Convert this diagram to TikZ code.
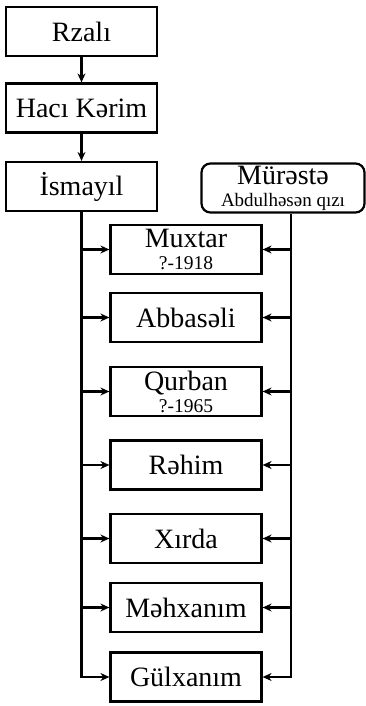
\documentclass[tikz,border=0pt]{standalone}
\usepackage{fontspec}
\setmainfont{Liberation Serif}
\usetikzlibrary{arrows.meta,positioning}
\begin{document}
\begin{tikzpicture}[x=1pt,y=-1pt,
	person/.style={draw,line width=2.2pt,minimum width=151pt,minimum height=49pt,inner sep=0pt,align=center,font=\fontsize{28}{22}\selectfont},
	mother/.style={person,rounded corners=9pt,minimum width=163pt},
	link/.style={line width=2.2pt,-{Stealth[length=9pt,width=8pt]}}]
	\useasboundingbox (0,0) rectangle (366,706);

	% parents
	\node[person] (rza) at (81.5,31.5) {Rzalı};
	\node[person] (hac) at (81.5,108) {Hacı Kərim};
	\node[person] (ism) at (81.5,186.5) {İsmayıl};
	\node[mother] (mur) at (283,188) {Mürəstə\\{\fontsize{19}{21}\selectfont Abdulhəsən qızı}};
	\draw[link] (rza) -- (hac);
	\draw[link] (hac) -- (ism);

	% children
	\node[person] (mux) at (186,249.5) {Muxtar\\{\fontsize{19.5}{22}\selectfont ?-1918}};
	\node[person] (abb) at (186,317.5) {Abbasəli};
	\node[person] (qur) at (186,391.5) {Qurban\\{\fontsize{19.5}{22}\selectfont ?-1965}};
	\node[person] (reh) at (186,465) {Rəhim};
	\node[person] (xir) at (186,538.5) {Xırda};
	\node[person] (meh) at (186,607.5) {Məhxanım};
	\node[person] (gul) at (186,677) {Gülxanım};

	% father side
	\draw[link] (ism.south) |- (gul.west);
	\draw[link] (ism.south |- mux.west) -- (mux.west);
	\draw[link] (ism.south |- abb.west) -- (abb.west);
	\draw[link] (ism.south |- qur.west) -- (qur.west);
	\draw[link] (ism.south |- reh.west) -- (reh.west);
	\draw[link] (ism.south |- xir.west) -- (xir.west);
	\draw[link] (ism.south |- meh.west) -- (meh.west);

	% mother side
	\coordinate[right=8pt of mur.south] (rtop);
	\draw[link] (rtop) |- (gul.east);
	\draw[link] (rtop |- mux.east) -- (mux.east);
	\draw[link] (rtop |- abb.east) -- (abb.east);
	\draw[link] (rtop |- qur.east) -- (qur.east);
	\draw[link] (rtop |- reh.east) -- (reh.east);
	\draw[link] (rtop |- xir.east) -- (xir.east);
	\draw[link] (rtop |- meh.east) -- (meh.east);
\end{tikzpicture}
\end{document}
